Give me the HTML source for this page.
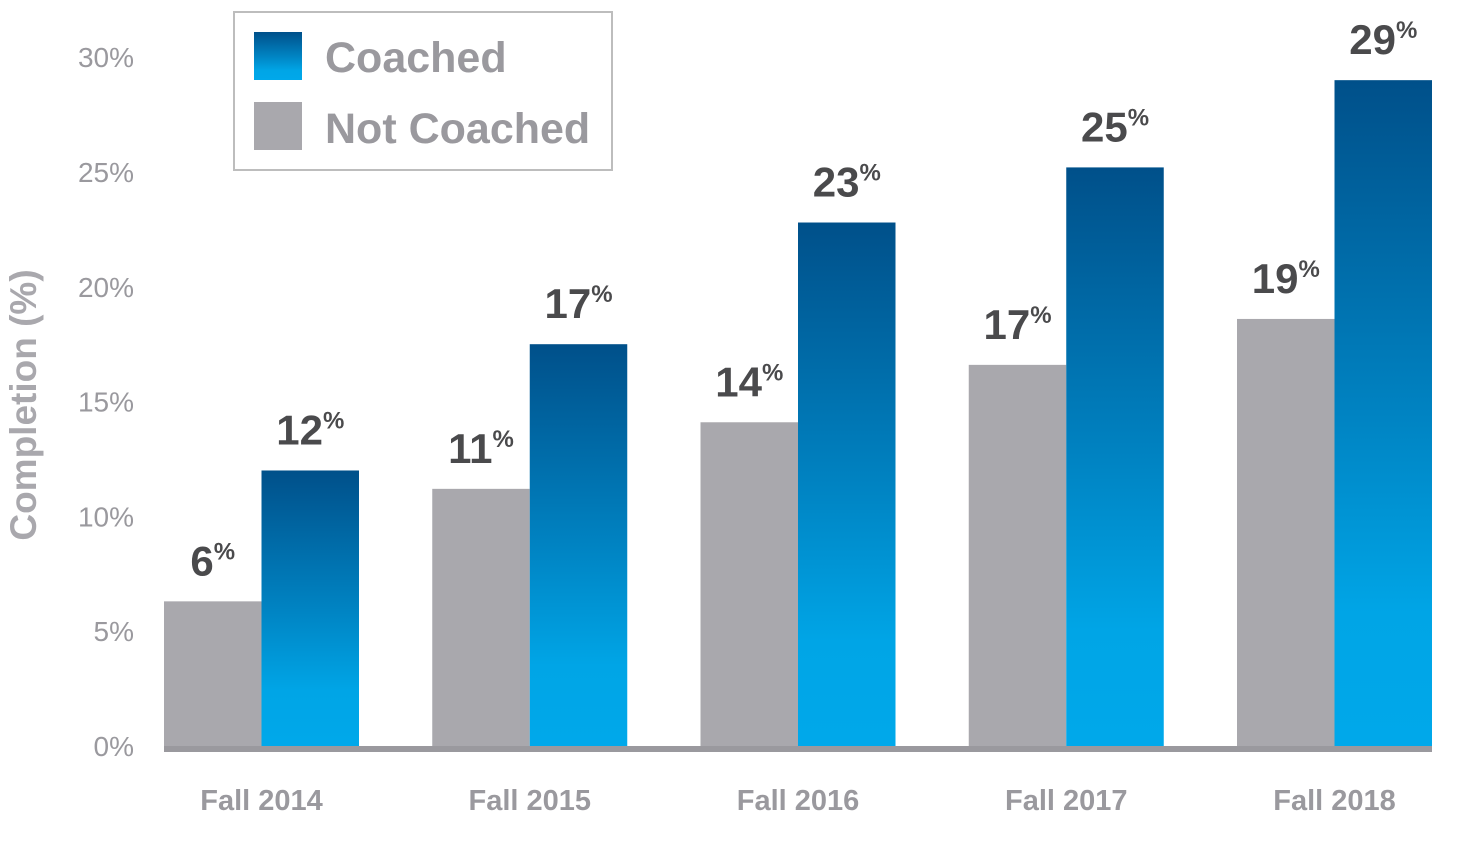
<!DOCTYPE html>
<html><head><meta charset="utf-8"><style>
body{margin:0;background:#fff;width:1461px;height:839px;overflow:hidden}
svg text{font-family:"Liberation Sans",sans-serif}
</style></head><body>
<svg id="chart" width="1461" height="839" xmlns="http://www.w3.org/2000/svg">
<defs>
<linearGradient id="blueGrad" x1="0" y1="0" x2="0" y2="1">
<stop offset="0" stop-color="#00508a"/>
<stop offset="0.5" stop-color="#0083c2"/>
<stop offset="0.8" stop-color="#00a5e6"/>
<stop offset="1" stop-color="#00a8ea"/>
</linearGradient>
</defs>
<g id="yticks"></g>
<g id="bars"></g>
<g id="labels"></g>
<rect x="164" y="746" width="1268" height="6" fill="#9a999e"/>
<text transform="translate(36,405) rotate(-90)" text-anchor="middle" font-size="37" font-weight="bold" fill="#a9a8ad">Completion (%)</text>
<g>
<rect x="234" y="12" width="378" height="158" fill="#fff" stroke="#bdbdbd" stroke-width="2"/>
<rect x="254" y="32" width="48" height="48" fill="url(#blueGrad)"/>
<text x="325" y="72" font-size="43" font-weight="bold" fill="#9a999e">Coached</text>
<rect x="254" y="102" width="48" height="48" fill="#a9a8ad"/>
<text x="325" y="143" font-size="43" font-weight="bold" fill="#9a999e">Not Coached</text>
</g>
</svg>
<script>
const categories=["Fall 2014","Fall 2015","Fall 2016","Fall 2017","Fall 2018"];
const notCoached=[6.3,11.2,14.1,16.6,18.6];
const coached=[12.0,17.5,22.8,25.2,29.0];
const notCoachedLabels=["6","11","14","17","19"];
const coachedLabels=["12","17","23","25","29"];
const yTicks=[0,5,10,15,20,25,30];
const NS="http://www.w3.org/2000/svg";
const y0=746,pxPer=22.96;
function yScale(v){return y0-v*pxPer;}
function xGroup(i){return 164+i*268.25;}
const bw=97.5;
function mk(tag,attrs,parent){const e=document.createElementNS(NS,tag);for(const k in attrs)e.setAttribute(k,attrs[k]);parent.appendChild(e);return e;}
const yt=document.getElementById('yticks'),bars=document.getElementById('bars'),labs=document.getElementById('labels');
yTicks.forEach(t=>{
 const e=mk('text',{x:134,y:yScale(t)+10,'text-anchor':'end','font-size':'28','fill':'#9a999e'},yt);
 
 
 e.textContent=t+'%';
});
function label(cx,v,txt){
 const t=mk('text',{x:cx,y:yScale(v)-26,'text-anchor':'middle','font-size':'42','font-weight':'bold','fill':'#4a4a4c'},labs);
 
 
 t.textContent=txt;
 const s=document.createElementNS(NS,'tspan');
 s.setAttribute('font-size','24');s.setAttribute('dy','-16');s.textContent='%';
 t.appendChild(s);
}
categories.forEach((c,i)=>{
 const x=xGroup(i);
 const r1=mk('rect',{x:x,y:yScale(notCoached[i]),width:bw,height:notCoached[i]*pxPer,fill:'#a9a8ad'},bars);
 
 
 const r2=mk('rect',{x:x+bw,y:yScale(coached[i]),width:bw,height:coached[i]*pxPer,fill:'url(#blueGrad)'},bars);
 
 
 label(x+bw/2,notCoached[i],notCoachedLabels[i]);
 label(x+bw*1.5,coached[i],coachedLabels[i]);
 const xl=mk('text',{x:x+bw,y:810,'text-anchor':'middle','font-size':'29','font-weight':'bold','fill':'#9a999e'},labs);
 
 
 xl.textContent=c;
});
</script>
</body></html>
